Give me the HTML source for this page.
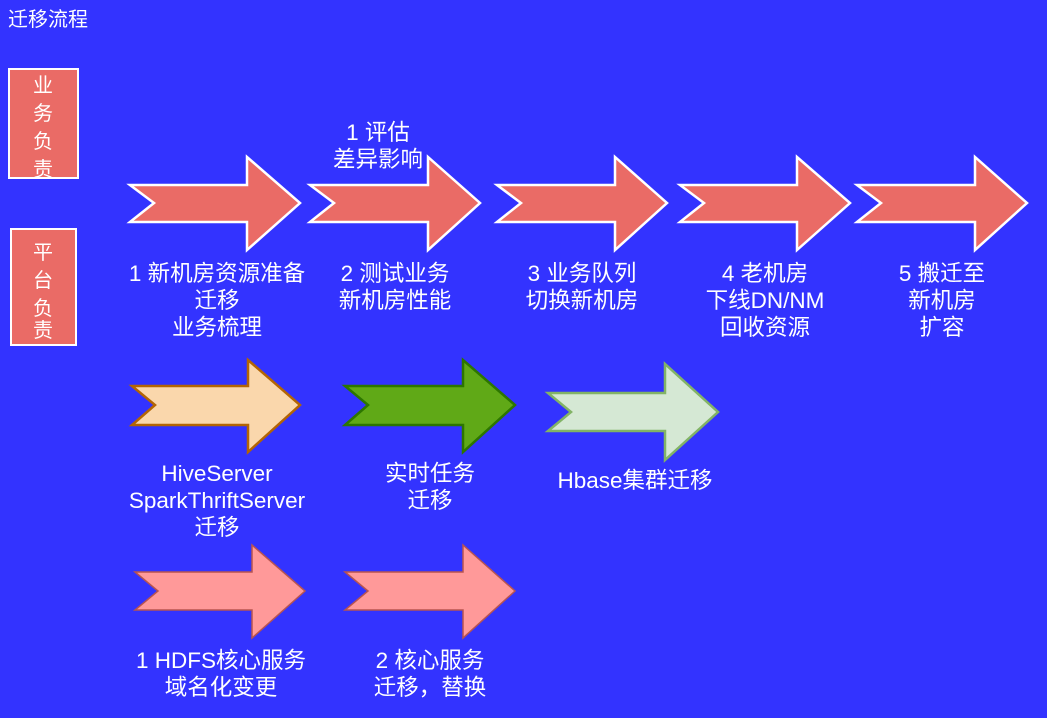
<!DOCTYPE html>
<html><head><meta charset="utf-8"><style>
html,body{margin:0;padding:0;background:#3333ff;}
svg{display:block}
text{font-family:"Liberation Sans","Noto Sans CJK SC",sans-serif;fill:#fff;font-size:22.5px;}
</style></head><body>
<svg width="1047" height="718" viewBox="0 0 1047 718" xmlns="http://www.w3.org/2000/svg">
<rect width="1047" height="718" fill="#3333ff"/>
<text x="8" y="26" style="font-size:20px">迁移流程</text>
<rect x="9" y="69" width="69" height="109" fill="#ea6b66" stroke="#fff" stroke-width="2"/>
<text x="43" y="92" text-anchor="middle" style="font-size:20px">业</text>
<text x="43" y="120" text-anchor="middle" style="font-size:20px">务</text>
<text x="43" y="148" text-anchor="middle" style="font-size:20px">负</text>
<text x="43" y="176" text-anchor="middle" style="font-size:20px">责</text>
<rect x="11" y="229" width="65" height="116" fill="#ea6b66" stroke="#fff" stroke-width="2"/>
<text x="43" y="259" text-anchor="middle" style="font-size:20px">平</text>
<text x="43" y="287" text-anchor="middle" style="font-size:20px">台</text>
<text x="43" y="315" text-anchor="middle" style="font-size:20px">负</text>
<text x="43" y="337" text-anchor="middle" style="font-size:20px">责</text>

<g stroke-width="2.5" stroke-linejoin="miter">
<polygon fill="#ea6b66" stroke="#fff" points="130,185 247,185 247,157 300,203 247,250 247,222 130,222 154,203"/>
<polygon fill="#ea6b66" stroke="#fff" points="310,185 428,185 428,157 480,203 428,250 428,222 310,222 334,203"/>
<polygon fill="#ea6b66" stroke="#fff" points="497,185 615,185 615,157 667,203 615,250 615,222 497,222 521,203"/>
<polygon fill="#ea6b66" stroke="#fff" points="680,185 797,185 797,157 850,203 797,250 797,222 680,222 704,203"/>
<polygon fill="#ea6b66" stroke="#fff" points="857,185 975,185 975,157 1027,203 975,250 975,222 857,222 881,203"/>
<polygon fill="#fad7ac" stroke="#b46504" points="132,386 248,386 248,360 300,405 248,452 248,425 132,425 155,405"/>
<polygon fill="#60a917" stroke="#2d7600" points="345,386 463,386 463,360 515,405 463,452 463,425 345,425 368,405"/>
<polygon fill="#d5e8d4" stroke="#82b366" points="548,393 665,393 665,364 718,412 665,460 665,431 548,431 571,412"/>
<polygon fill="#ff9999" stroke="#b85450" stroke-width="1.5" points="135,572 252,572 252,545 305,591 252,638 252,610 135,610 158,591"/>
<polygon fill="#ff9999" stroke="#b85450" stroke-width="1.5" points="345,572 463,572 463,545 515,591 463,638 463,610 345,610 368,591"/>
</g>

<g text-anchor="middle">
<text x="378" y="140">1 评估</text>
<text x="378" y="167">差异影响</text>
<text x="217" y="281">1 新机房资源准备</text>
<text x="217" y="308">迁移</text>
<text x="217" y="335">业务梳理</text>
<text x="395" y="281">2 测试业务</text>
<text x="395" y="308">新机房性能</text>
<text x="582" y="281">3 业务队列</text>
<text x="582" y="308">切换新机房</text>
<text x="765" y="281">4 老机房</text>
<text x="765" y="308">下线DN/NM</text>
<text x="765" y="335">回收资源</text>
<text x="942" y="281">5 搬迁至</text>
<text x="942" y="308">新机房</text>
<text x="942" y="335">扩容</text>
<text x="217" y="481">HiveServer</text>
<text x="217" y="508">SparkThriftServer</text>
<text x="217" y="535">迁移</text>
<text x="430" y="481">实时任务</text>
<text x="430" y="508">迁移</text>
<text x="635" y="488">Hbase集群迁移</text>
<text x="221" y="668">1 HDFS核心服务</text>
<text x="221" y="695">域名化变更</text>
<text x="430" y="668">2 核心服务</text>
<text x="430" y="695">迁移，替换</text>
</g>
</svg>
</body></html>
